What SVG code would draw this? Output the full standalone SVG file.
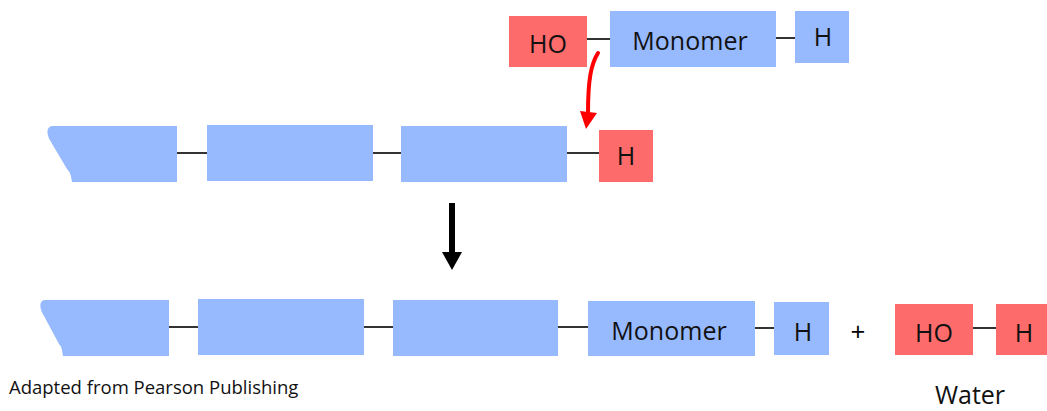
<svg xmlns="http://www.w3.org/2000/svg" width="1047" height="411" viewBox="0 0 1047 411">
<style>
.b{fill:#97b9fe}
.r{fill:#fe6b6b}
.t{font-family:"Open Sans","Liberation Sans",sans-serif;font-size:25px;fill:#111;text-anchor:middle}
.l{stroke:#333;stroke-width:2;fill:none}
</style>
<rect width="1047" height="411" fill="#fff"/>
<g id="connectors">
<line class="l" x1="587" y1="39" x2="610" y2="39"/>
<line class="l" x1="776" y1="38" x2="795" y2="38"/>
<line class="l" x1="177" y1="153" x2="207" y2="153"/>
<line class="l" x1="373" y1="153" x2="401" y2="153"/>
<line class="l" x1="567" y1="153" x2="599" y2="153"/>
<line class="l" x1="169" y1="327" x2="198" y2="327"/>
<line class="l" x1="364" y1="327" x2="393" y2="327"/>
<line class="l" x1="558" y1="327" x2="588" y2="327"/>
<line class="l" x1="755" y1="328" x2="774" y2="328"/>
<line class="l" x1="973" y1="328" x2="996" y2="328"/>
<path d="M598,53 C591,64 588,80 588,113" stroke="#f00" stroke-width="4" fill="none" stroke-linecap="round"/>
<polygon points="580,111 597,113 586,129" fill="#f00"/>
<rect x="449" y="203" width="6" height="50" fill="#000"/>
<polygon points="442,252 462,252 452,270" fill="#000"/>
</g>
<g id="top-HO"><rect class="r" x="509" y="16" width="78" height="51"/><text class="t" x="548" y="53">HO</text></g>
<g id="top-monomer"><rect class="b" x="610" y="11" width="166" height="56"/><text class="t" x="690" y="50">Monomer</text></g>
<g id="top-H"><rect class="b" x="795" y="11" width="54" height="52"/><text class="t" x="823" y="46">H</text></g>
<g id="chain2-end"><path class="b" d="M53,126 L177,126 L177,182 L72,182 C71,175 70,172 67,169 L51,142 C46,134 46,126 53,126 Z"/></g>
<g id="chain2-box1"><rect class="b" x="207" y="125" width="166" height="56"/></g>
<g id="chain2-box2"><rect class="b" x="401" y="126" width="166" height="56"/></g>
<g id="chain2-H"><rect class="r" x="599" y="130" width="54" height="52"/><text class="t" x="626" y="165">H</text></g>
<g id="chain3-end"><path class="b" d="M45,300 L169,300 L169,356 L63,356 C62,350 62,347 59,344 L44,316 C39,308 39,300 45,300 Z"/></g>
<g id="chain3-box1"><rect class="b" x="198" y="299" width="166" height="56"/></g>
<g id="chain3-box2"><rect class="b" x="393" y="300" width="165" height="56"/></g>
<g id="chain3-monomer"><rect class="b" x="588" y="301" width="167" height="55"/><text class="t" x="669" y="340">Monomer</text></g>
<g id="chain3-H"><rect class="b" x="774" y="302" width="55" height="53"/><text class="t" x="803" y="341">H</text></g>
<text class="t" x="858" y="341" style="font-size:26px;fill:#000">+</text>
<g id="water-HO"><rect class="r" x="895" y="304" width="78" height="51"/><text class="t" x="934" y="342">HO</text></g>
<g id="water-H"><rect class="r" x="996" y="304" width="51" height="51"/><text class="t" x="1024" y="342">H</text></g>
<text class="t" x="970" y="404" style="font-size:25px">Water</text>
<text class="t" x="9" y="394" style="font-size:18.5px;text-anchor:start">Adapted from Pearson Publishing</text>
</svg>
